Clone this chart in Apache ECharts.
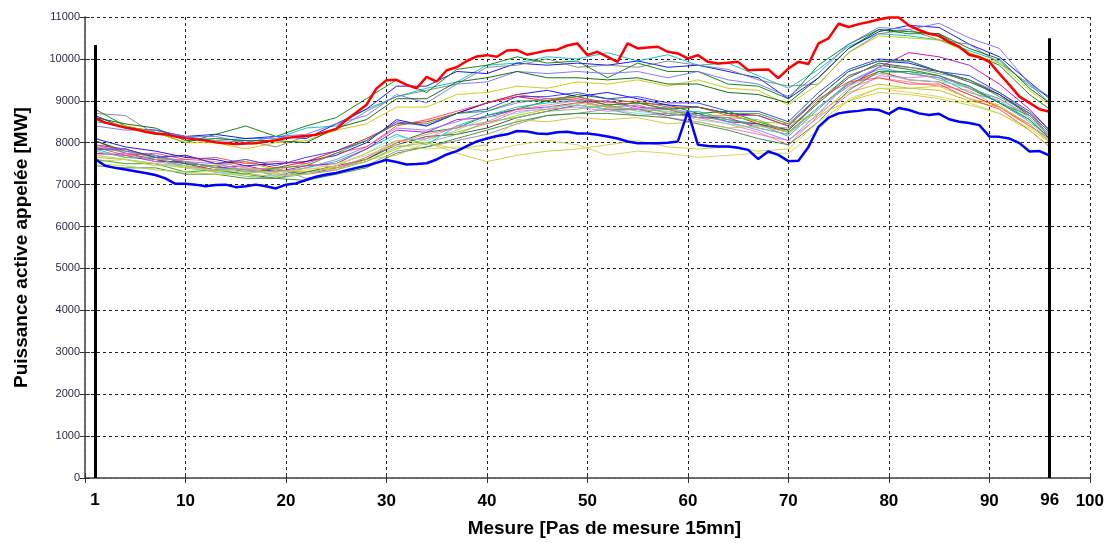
<!DOCTYPE html>
<html>
<head>
<meta charset="utf-8">
<script src="https://cdn.jsdelivr.net/npm/echarts@6/dist/echarts.min.js"></script>
<style>
html,body{margin:0;padding:0;background:#fff;}
#chart{width:1107px;height:543px;}
</style>
</head>
<body>
<div id="chart"></div>
<script>
// ---- Data ----
const xTitle = 'Mesure [Pas de mesure 15mn]';
const yTitle = 'Puissance active appelée [MW]';
const markerSteps = [1, 96];
const markerTops = [10330, 10490];

// measurement steps for thick curves (1..96)
const stepsFull = [1,2,3,4,5,6,7,8,9,10,11,12,13,14,15,16,17,18,19,20,21,22,23,24,25,26,27,28,29,30,31,32,33,34,35,36,37,38,39,40,41,42,43,44,45,46,47,48,49,50,51,52,53,54,55,56,57,58,59,60,61,62,63,64,65,66,67,68,69,70,71,72,73,74,75,76,77,78,79,80,81,82,83,84,85,86,87,88,89,90,91,92,93,94,95,96];

const maxCurve = [8590,8480,8420,8360,8320,8260,8220,8200,8150,8110,8080,8050,8010,7990,7970,7980,7990,8030,8060,8110,8140,8160,8190,8260,8330,8540,8720,8900,9290,9490,9500,9380,9300,9570,9460,9730,9800,9950,10060,10090,10050,10200,10210,10100,10150,10200,10220,10320,10370,10090,10170,10050,9930,10370,10250,10270,10290,10170,10130,10010,10090,9930,9890,9910,9930,9730,9740,9750,9540,9770,9930,9880,10370,10490,10840,10760,10830,10880,10940,10990,10990,10800,10690,10600,10550,10400,10290,10100,10040,9930,9650,9380,9100,8950,8800,8740];

const minCurve = [7610,7450,7400,7360,7320,7280,7230,7150,7020,7020,7000,6960,6990,7000,6940,6960,7000,6960,6910,7000,7030,7110,7190,7240,7280,7340,7400,7450,7520,7590,7540,7480,7490,7510,7600,7720,7800,7920,8030,8100,8160,8200,8280,8270,8220,8210,8250,8260,8220,8220,8190,8150,8100,8030,7990,7990,7990,8000,8030,8740,7950,7920,7910,7910,7880,7830,7610,7790,7710,7560,7570,7900,8380,8600,8700,8740,8760,8800,8780,8690,8830,8780,8700,8660,8690,8560,8500,8470,8420,8150,8140,8100,7990,7790,7800,7690];

// sampled steps for the thin curves
const stepsThin = [1,4,7,10,13,16,19,22,25,28,31,34,37,40,43,46,49,52,55,58,61,64,67,70,73,76,79,82,85,88,91,94,96];

// upper band
const u1 = [8500,8400,8200,8150,8050,8100,8100,8350,8400,8800,9100,9300,9450,9850,9900,10050,10000,10150,9950,10100,9850,9900,9600,9300,9750,10300,10600,10550,10450,10200,9950,9350,9100];
const u2 = [8650,8350,8300,8150,8200,8100,8150,8100,8450,8800,9350,9350,9700,9650,9900,9850,9900,9850,9950,9800,9850,9700,9550,9050,9550,10250,10650,10800,10750,10350,10050,9450,9050];
const u3 = [8700,8650,8200,8150,8000,8050,7900,8150,8300,8750,9100,9250,9400,9800,9850,10000,9800,9850,9800,9950,9850,9750,9500,9350,9400,10150,10600,10700,10450,10350,9900,9400,8950];
const u4 = [8800,8400,8250,8000,8200,8400,8150,8400,8600,9050,9500,9200,9750,9850,10050,9900,9950,9550,9900,9700,9700,9400,9350,9050,9850,10350,10700,10600,10600,10150,9850,9150,8800];
const u5 = [8400,8300,8300,8150,8150,8000,8150,8200,8450,8650,9150,8950,9400,9450,9700,9650,9700,9650,9700,9550,9700,9500,9400,9100,9650,10350,10750,10700,10850,10500,10250,9400,9100];
const u6 = [8550,8400,8250,8000,8000,7850,8000,8050,8300,8450,8850,8850,9150,9200,9350,9300,9450,9400,9500,9350,9500,9300,9250,8900,9400,10150,10550,10500,10450,10150,9900,9250,8900];
const u7 = [8600,8450,8350,8050,8100,8050,8050,8000,8350,8550,9050,9050,9450,9550,9700,9550,9550,9500,9550,9400,9400,9200,9150,8950,9550,10250,10700,10650,10600,10250,10000,9300,8950];

// lower band
const l1 = [7950,7850,7650,7700,7500,7550,7400,7550,7800,8100,8450,8500,8700,8950,9100,9000,9050,8900,8950,8800,8850,8700,8450,8250,8850,9400,9700,9500,9450,9150,8850,8400,8100];
const l2 = [8050,7800,7700,7500,7450,7300,7350,7250,7400,7600,8000,8250,8350,8650,8800,9000,9150,9050,8950,8900,8700,8750,8500,8300,9000,9600,9850,9750,9600,9300,8950,8650,8150];
const l3 = [8100,7900,7800,7650,7600,7450,7500,7550,7700,8000,8550,8400,8700,8950,9150,9250,9100,9200,9050,8900,8850,8700,8650,8400,9100,9700,9950,9900,9700,9500,9150,8700,8250];
const l4 = [7850,7650,7600,7450,7350,7400,7200,7400,7550,7850,8200,7950,8400,8650,8850,8950,9000,8850,8900,8700,8750,8550,8450,8150,8800,9450,9750,9650,9550,9200,9000,8550,8100];
const l5 = [7750,7700,7550,7550,7400,7450,7300,7450,7500,7850,8300,8250,8550,8600,8800,8850,8950,9000,8850,8800,8600,8600,8350,8200,8850,9350,9800,10150,10050,9850,9400,8800,8300];
const l6 = [7650,7600,7500,7400,7450,7550,7350,7300,7400,7550,7850,8100,8250,8450,8650,8800,8950,8850,8800,8750,8650,8650,8500,8450,8700,9200,9400,9300,9250,9000,8850,8450,8000];
const l7 = [8050,7750,7600,7500,7350,7250,7150,7300,7450,7600,7950,8150,8200,8350,8600,8750,8900,8800,8800,8650,8700,8500,8450,8300,8950,9550,9900,9800,9700,9450,9150,8650,8200];
const l8 = [7900,7850,7600,7600,7550,7400,7350,7500,7400,7650,8000,8200,8350,8500,8800,8900,9000,8850,8900,8700,8600,8450,8250,7950,8650,9300,9550,9450,9350,9250,8850,8450,8000];
const l9 = [7800,7650,7650,7400,7300,7200,7150,7250,7350,7550,7900,8000,8200,8500,8600,8750,8800,8900,8750,8800,8650,8600,8550,8250,8850,9400,9650,9700,9500,9300,9050,8600,8100];
const l10 = [7950,7750,7700,7550,7500,7350,7300,7400,7600,7900,8350,8300,8500,8750,8950,9050,9000,9000,8800,8850,8650,8500,8300,8050,8700,9450,9800,9650,9550,9350,8950,8500,8150];
const l11 = [7700,7750,7550,7450,7350,7350,7250,7250,7350,7650,8050,8100,8400,8450,8750,8800,8850,8750,8800,8600,8500,8350,8200,8050,8600,9150,9600,9550,9600,9300,9050,8650,8200];
const l12 = [7700,7600,7500,7450,7300,7250,7200,7250,7450,7750,8150,8050,8300,8600,8700,8850,8900,8800,8700,8750,8550,8450,8350,8200,8850,9350,9650,9500,9450,9350,9000,8500,8050];
const l13 = [7850,7800,7650,7550,7400,7350,7400,7150,7250,7450,7800,7900,8050,8200,8450,8650,8700,8800,8650,8700,8600,8550,8400,8350,8950,9600,9850,9800,9650,9500,9200,8700,8250];
const l14 = [7450,7400,7400,7250,7250,7150,7150,7100,7250,7400,7750,7900,8100,8300,8500,8650,8700,8700,8650,8600,8450,8300,8100,7950,8500,9250,9700,9700,9600,9350,8950,8550,8100];
const l15 = [7900,7700,7750,7600,7650,7500,7550,7500,7750,7900,8400,8550,8750,8950,9150,9050,9100,8950,9000,8850,8850,8650,8650,8400,9050,9450,9550,9400,9400,9050,8800,8300,7900];
const l16 = [7850,7850,7650,7700,7500,7600,7450,7650,7800,8050,8500,8400,8700,8800,9100,9100,9200,9050,9100,8950,8950,8750,8750,8500,9200,9750,10000,9950,9700,9600,9200,8750,8300];
const l17 = [7600,7500,7500,7300,7350,7250,7400,7450,7750,8050,8450,8450,8700,8750,9000,9000,9100,8900,8950,8800,8850,8700,8700,8450,9100,9700,9950,9950,9700,9500,9100,8700,8250];
const l18 = [7550,7600,7450,7450,7300,7400,7250,7400,7350,7600,7700,8000,7850,7950,8550,8500,8600,8550,8600,8450,8500,8350,8400,8250,8650,9000,9300,9300,9350,9050,8900,8400,8050];
const y1 = [7500,7450,7350,7300,7250,7250,7200,7250,7450,7750,8050,8000,7750,7550,7700,7800,7850,7950,8050,7900,7850,7900,7800,7850,8500,9000,9200,9150,9050,8900,8700,8300,7900];
const y2 = [7700,7600,7500,7400,7350,7300,7300,7350,7500,7700,7950,7850,7900,7800,7950,8050,7950,7700,7800,7750,7650,7700,7750,7750,8300,9050,9300,9200,9100,8950,8700,8350,8000];

const thinCurves = [u1,u2,u3,u4,u5,u6,u7,l1,l2,l3,l4,l5,l6,l7,l8,l9,l10,l11,l12,l13,l14,l15,l16,l17,l18,y1,y2];
const thinColors = ['#00bfbf','#0000ff','#808080','#008000','#7070ff','#c8c800','#006400',
  '#ff0000','#008000','#0000ff','#00bfbf','#bf00bf','#bfbf00','#404040','#ff7f7f','#6fbf6f','#7f7fff','#df70df','#6fdfdf','#8c8c8c','#2e8b2e','#ff4040','#3030ff','#20a020','#c8c840','#cccc33','#d4d450'];

// ---- Build options ----
const series = [];
thinCurves.forEach((c, i) => {
  series.push({
    type: 'line', symbol: 'none', silent: true,
    data: stepsThin.map((s, k) => [s, c[k]]),
    lineStyle: { width: 1, color: thinColors[i], opacity: 0.9 }
  });
});
series.push({
  type: 'line', symbol: 'none', silent: true,
  data: stepsFull.map((s, k) => [s, maxCurve[k]]),
  lineStyle: { width: 2.5, color: '#ff0000' }
});
series.push({
  type: 'line', symbol: 'none', silent: true,
  data: stepsFull.map((s, k) => [s, minCurve[k]]),
  lineStyle: { width: 2.5, color: '#0000ff' },
  markLine: {
    symbol: ['none', 'none'], silent: true, animation: false,
    lineStyle: { color: '#000', width: 3, type: 'solid' },
    label: { show: true, position: 'start', distance: 14, fontFamily: 'Liberation Sans, Arial, sans-serif', fontWeight: 'bold', fontSize: 17, color: '#000', formatter: p => String(p.data.coord ? p.data.coord[0] : p.value) },
    data: markerSteps.map((s, i) => [{ coord: [s, 0] }, { coord: [s, markerTops[i]] }])
  }
});

const font = 'Liberation Sans, Arial, sans-serif';
const option = {
  animation: false,
  backgroundColor: '#fff',
  grid: { left: 85, right: 16, top: 17, bottom: 63 },
  xAxis: [{
    type: 'value', min: 0, max: 100, interval: 10,
    name: xTitle, nameLocation: 'middle', nameGap: 41,
    nameTextStyle: { fontFamily: font, fontWeight: 'bold', fontSize: 19, color: '#000', padding: [0, 0, 0, 34] },
    axisLine: { show: true, lineStyle: { color: '#666', width: 1.5 } },
    axisTick: { show: true, inside: true, length: 5, lineStyle: { color: '#333' } },
    axisLabel: { fontFamily: font, fontWeight: 'bold', fontSize: 17, color: '#000', margin: 15, formatter: v => v === 0 ? '' : String(v) },
    splitLine: { show: true, lineStyle: { color: '#222', type: [3, 3], width: 1 } }
  }, {
    type: 'value', min: 0, max: 100, interval: 10, position: 'top',
    axisLine: { show: true, lineStyle: { color: '#666', width: 1.5 } },
    axisTick: { show: true, inside: true, length: 5, lineStyle: { color: '#333' } },
    axisLabel: { show: false }, splitLine: { show: false }
  }],
  yAxis: [{
    type: 'value', min: 0, max: 11000, interval: 1000,
    name: yTitle, nameLocation: 'middle', nameGap: 54,
    nameTextStyle: { fontFamily: font, fontWeight: 'bold', fontSize: 19, color: '#000' },
    axisLine: { show: true, lineStyle: { color: '#666', width: 1.5 } },
    axisTick: { show: true, inside: true, length: 5, lineStyle: { color: '#333' } },
    axisLabel: { fontFamily: font, fontSize: 11, color: '#2a2a48', margin: 5, formatter: v => String(v) },
    splitLine: { show: true, lineStyle: { color: '#222', type: [3, 3], width: 1 } }
  }, {
    type: 'value', min: 0, max: 11000, interval: 1000, position: 'right',
    axisLine: { show: true, lineStyle: { color: '#666', width: 1.5 } },
    axisTick: { show: true, inside: true, length: 5, lineStyle: { color: '#333' } },
    axisLabel: { show: false }, splitLine: { show: false }
  }],
  series: series
};

const chart = echarts.init(document.getElementById('chart'), null, { renderer: 'canvas' });
chart.setOption(option);
</script>
</body>
</html>
